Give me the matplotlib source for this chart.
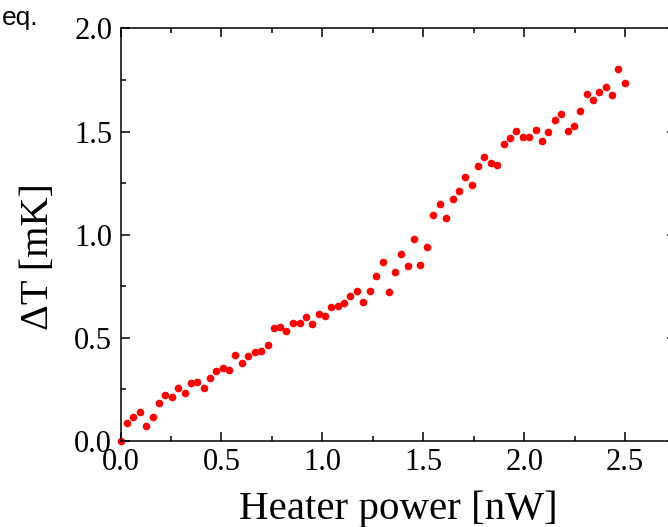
import matplotlib
matplotlib.use("Agg")
import matplotlib.pyplot as plt
from matplotlib.ticker import MultipleLocator

plt.rcParams["font.family"] = ["Liberation Serif", "DejaVu Serif"]

# heater power [nW] and temperature rise [mK]
power = [
    0.000, 0.033, 0.063, 0.096, 0.128, 0.159, 0.192, 0.222, 0.254, 0.286,
    0.317, 0.348, 0.380, 0.412, 0.443, 0.474, 0.506, 0.538, 0.569, 0.602,
    0.633, 0.665, 0.697, 0.728, 0.759, 0.791, 0.822, 0.854, 0.887, 0.918,
    0.949, 0.982, 1.013, 1.045, 1.077, 1.109, 1.139, 1.170, 1.203, 1.234,
    1.266, 1.298, 1.329, 1.360, 1.391, 1.423, 1.455, 1.486, 1.517, 1.550,
    1.581, 1.612, 1.645, 1.675, 1.708, 1.740, 1.771, 1.802, 1.834, 1.867,
    1.898, 1.930, 1.961, 1.993, 2.025, 2.057, 2.088, 2.119, 2.151, 2.182,
    2.215, 2.247, 2.278, 2.310, 2.341, 2.372, 2.404, 2.437, 2.467, 2.500,
]
delta_t = [
    0.000, 0.089, 0.114, 0.142, 0.073, 0.118, 0.184, 0.222, 0.211, 0.255,
    0.235, 0.280, 0.286, 0.259, 0.307, 0.339, 0.356, 0.344, 0.417, 0.380,
    0.412, 0.432, 0.438, 0.466, 0.546, 0.553, 0.533, 0.571, 0.574, 0.602,
    0.565, 0.614, 0.605, 0.650, 0.655, 0.668, 0.702, 0.728, 0.675, 0.727,
    0.800, 0.868, 0.722, 0.820, 0.907, 0.847, 0.978, 0.852, 0.939, 1.097,
    1.149, 1.082, 1.174, 1.212, 1.279, 1.243, 1.333, 1.377, 1.346, 1.336,
    1.438, 1.469, 1.504, 1.472, 1.474, 1.506, 1.453, 1.500, 1.557, 1.583,
    1.504, 1.528, 1.601, 1.680, 1.651, 1.692, 1.717, 1.676, 1.802, 1.734,
]

fig = plt.figure(figsize=(6.68, 5.27), dpi=100)
# right spine sits just outside the picture, as in the reference crop
ax = fig.add_axes([0.1805, 0.1632, 0.8309, 0.7829])

ax.plot(power, delta_t, "o", color="#ff0000", markersize=5.5, markeredgewidth=0, clip_on=False)

ax.set_xlim(0, 2.75)
ax.set_ylim(0, 2.0)
ax.xaxis.set_major_locator(MultipleLocator(0.5))
ax.xaxis.set_minor_locator(MultipleLocator(0.25))
ax.yaxis.set_major_locator(MultipleLocator(0.5))
ax.yaxis.set_minor_locator(MultipleLocator(0.25))
ax.xaxis.set_major_formatter(lambda v, pos: f"{v:.1f}")
ax.yaxis.set_major_formatter(lambda v, pos: f"{v:.1f}")

ax.tick_params(which="both", direction="in", top=True, right=True, width=1.1, labelsize=22)
ax.tick_params(which="major", length=6.5)
ax.tick_params(which="minor", length=3.5)
ax.tick_params(axis="x", pad=5)
ax.tick_params(axis="y", pad=6)
for side in ax.spines.values():
    side.set_linewidth(1.1)

ax.set_xlabel("Heater power [nW]", fontsize=29.5, labelpad=10)
ax.set_ylabel("ΔT [mK]", fontsize=29)
ax.yaxis.set_label_coords(-0.115, 0.446)

fig.text(0.057, 0.9526, "eq.", fontsize=19, family=["Liberation Sans", "DejaVu Sans"], ha="right", va="baseline")

fig.savefig("out.png", dpi=100)
